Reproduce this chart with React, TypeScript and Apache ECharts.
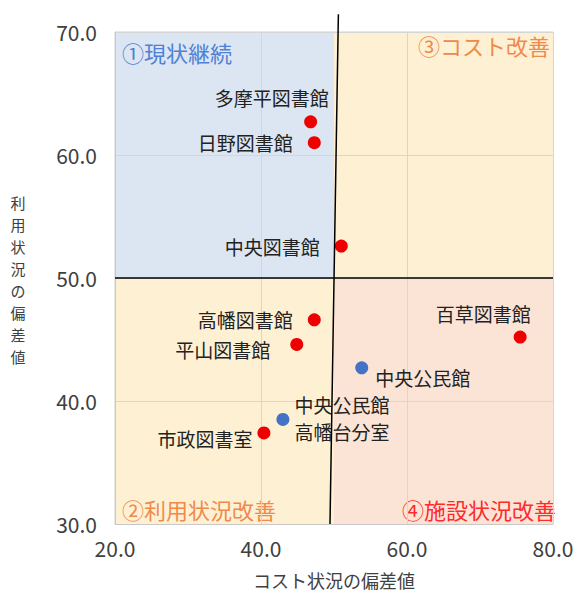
import React, { useEffect, useRef } from "react";
import * as echarts from "echarts";

const redNames = ["多摩平図書館", "日野図書館", "中央図書館", "高幡図書館", "平山図書館", "百草図書館", "市政図書室"];
const redX = [46.8, 47.3, 51.0, 47.3, 44.9, 75.5, 40.4];
const redY = [62.7, 61.0, 52.6, 46.6, 44.6, 45.2, 37.4];

const blueNames = ["中央公民館", "中央公民館\n高幡台分室"];
const blueX = [53.8, 43.0];
const blueY = [42.7, 38.5];

const xTicks = [20, 40, 60, 80];
const yTicks = [30, 40, 50, 60, 70];

const quadrantNames = ["①現状継続", "③コスト改善", "②利用状況改善", "④施設状況改善"];
const xAxisName = "コスト状況の偏差値";
const yAxisName = "利用状況の偏差値";

// divider line ends (data units)
const vDividerTop = [50.6, 71.45];
const vDividerBottom = [49.45, 30];

const FONT = "'Noto Sans CJK JP', 'Noto Sans', sans-serif";

const labelCfg: Record<string, any> = {
  "多摩平図書館": { position: "top", offset: [-39, 1] },
  "日野図書館": { position: "left", distance: 15 },
  "中央図書館": { position: "left", distance: 15 },
  "高幡図書館": { position: "left", distance: 15 },
  "平山図書館": { position: "left", distance: 20, offset: [0, 5] },
  "百草図書館": { position: "top", offset: [-37, 1] },
  "市政図書室": { position: "left", distance: 5, offset: [0, 6] },
  "中央公民館": { position: "right", distance: 7, offset: [0, 10] },
  "中央公民館\n高幡台分室": { position: "right", distance: 5, offset: [0, -1] },
};

function makeData(names: string[], xs: number[], ys: number[]) {
  return names.map((n, i) => ({
    name: n,
    value: [xs[i], ys[i]],
    label: { show: true, formatter: "{b}", ...labelCfg[n] },
  }));
}

export default function App() {
  const ref = useRef<HTMLDivElement>(null);
  useEffect(() => {
    const chart = echarts.init(ref.current!, undefined, { renderer: "svg" });
    const labelStyle = {
      fontFamily: FONT,
      fontSize: 19,
      color: "#222222",
      lineHeight: 27,
    };
    chart.setOption({
      animation: false,
      backgroundColor: "#ffffff",
      grid: { left: 115, right: 27, top: 32, bottom: 66, show: true, borderColor: "#d0d0d0", borderWidth: 1 },
      xAxis: {
        type: "value",
        min: xTicks[0],
        max: xTicks[xTicks.length - 1],
        interval: 20,
        z: 2,
        name: xAxisName,
        nameLocation: "middle",
        nameGap: 47,
        nameTextStyle: { fontFamily: FONT, fontSize: 18, color: "#404040" },
        axisLine: { show: true, lineStyle: { color: "#c8c8c8" } },
        axisTick: { show: false },
        axisLabel: {
          margin: 13,
          fontFamily: FONT,
          fontSize: 21,
          color: "#404040",
          formatter: (v: number) => v.toFixed(1),
        },
        splitLine: { show: true, lineStyle: { color: "#d6d6d6", width: 1 } },
      },
      yAxis: {
        type: "value",
        min: yTicks[0],
        max: yTicks[yTicks.length - 1],
        interval: 10,
        z: 2,
        axisLine: { show: true, lineStyle: { color: "#c8c8c8" } },
        axisTick: { show: false },
        axisLabel: {
          margin: 18,
          fontFamily: FONT,
          fontSize: 21,
          color: "#404040",
          formatter: (v: number) => v.toFixed(1),
        },
        splitLine: { show: true, lineStyle: { color: "#d6d6d6", width: 1 } },
      },
      series: [
        {
          type: "scatter",
          name: "areas",
          data: [],
          z: 1,
          markArea: {
            silent: true,
            z: 1,
            data: [
              [
                {
                  coord: [20, 50],
                  itemStyle: { color: "#dce6f2" },
                  label: { show: true, formatter: quadrantNames[0], position: "insideTopLeft", distance: 0, offset: [7, 9], color: "#4f81d6", fontSize: 22, fontFamily: FONT },
                },
                { coord: [50, 70] },
              ],
              [
                {
                  coord: [50, 50],
                  itemStyle: { color: "#fef0d3" },
                  label: { show: true, formatter: quadrantNames[1], position: "insideTopRight", distance: 0, offset: [-3, 2], color: "#ef8a4c", fontSize: 22, fontFamily: FONT },
                },
                { coord: [80, 70] },
              ],
              [
                {
                  coord: [20, 30],
                  itemStyle: { color: "#fef0d3" },
                  label: { show: true, formatter: quadrantNames[2], position: "insideBottomLeft", distance: 0, offset: [7, -4], color: "#ef8a4c", fontSize: 22, fontFamily: FONT },
                },
                { coord: [50, 50] },
              ],
              [
                {
                  coord: [50, 30],
                  itemStyle: { color: "#fbe4d6" },
                  label: { show: true, formatter: quadrantNames[3], position: "insideBottomRight", distance: 0, offset: [3, -4], color: "#ff2a2a", fontSize: 22, fontFamily: FONT },
                },
                { coord: [80, 50] },
              ],
            ],
          },
          markLine: {
            silent: true,
            symbol: "none",
            z: 5,
            label: { show: false },
            lineStyle: { color: "#000000", width: 1.5, type: "solid" },
            data: [[{ coord: [20, 50] }, { coord: [80, 50] }]],
          },
        },
        {
          type: "scatter",
          name: "library",
          z: 3,
          symbolSize: 13,
          itemStyle: { color: "#ee0000", opacity: 1 },
          label: labelStyle,
          data: makeData(redNames, redX, redY),
        },
        {
          type: "scatter",
          name: "community",
          z: 3,
          symbolSize: 13,
          itemStyle: { color: "#4472c4", opacity: 1 },
          label: labelStyle,
          data: makeData(blueNames, blueX, blueY),
        },
      ],
    });

    const p1 = chart.convertToPixel({ gridIndex: 0 }, vDividerTop) as number[];
    const p2 = chart.convertToPixel({ gridIndex: 0 }, vDividerBottom) as number[];
    const chars = yAxisName.split("");
    chart.setOption({
      graphic: [
        {
          type: "line",
          z: 10,
          silent: true,
          shape: { x1: p1[0], y1: p1[1], x2: p2[0], y2: p2[1] },
          style: { stroke: "#000000", lineWidth: 1.5 },
        },
        ...chars.map((c, i) => ({
          type: "text",
          x: 18,
          y: 202 + i * 22,
          silent: true,
          style: {
            text: c,
            fontFamily: FONT,
            fontSize: 15,
            fill: "#404040",
            align: "center",
            verticalAlign: "middle",
          },
        })),
      ],
    });
    return () => chart.dispose();
  }, []);
  return <div ref={ref} style={{ position: "absolute", left: 0, top: 0, width: 580, height: 594 }} />;
}
